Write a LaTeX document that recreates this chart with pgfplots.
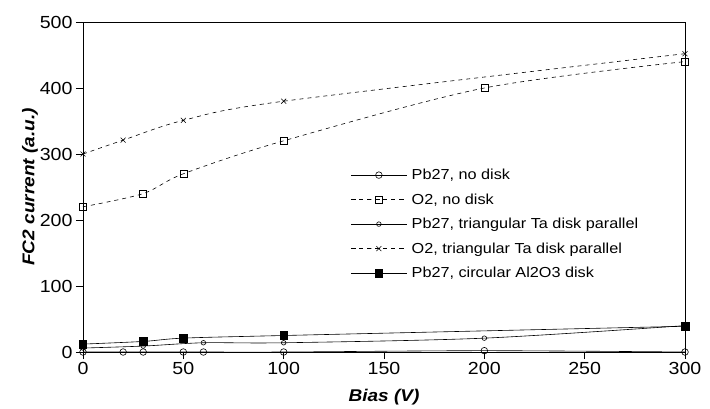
\documentclass[border=0pt]{standalone}
\usepackage{fontspec}
\setmainfont{Liberation Sans}[FakeStretch=1.12]
\usepackage{pgfplots}
\pgfplotsset{compat=1.18}
\begin{document}
\begin{tikzpicture}
\begin{axis}[
  at={(0pt,0pt)}, anchor=south west,
  scale only axis, width=602pt, height=330pt,
  xmin=0, xmax=300, ymin=0, ymax=500,
  xtick={0,50,100,150,200,250,300},
  ytick={0,100,200,300,400,500},
  xtick pos=bottom, ytick pos=left,
  tick align=outside, major tick length=7pt,
  tick style={black, line width=0.6pt},
  axis line style={line width=0.7pt},
  /pgf/number format/assume math mode=true,
  ticklabel style={font=\fontsize{17.5}{19}\selectfont},
  xlabel={\textbf{\textit{Bias (V)}}},
  ylabel={\textbf{\textit{FC2 current (a.u.)}}},
  label style={font=\fontsize{17}{19}\selectfont},
  xlabel style={yshift=-7pt},
  ylabel style={yshift=-5pt},
  legend cell align=left,
  legend style={draw=none, fill=none, at={(0.44,0.567)}, anchor=north west,
    font=\fontsize{14.5}{17}\selectfont, row sep=8.5pt},
  legend image code/.code={\draw[mark repeat=2,mark phase=2] plot coordinates {(0pt,0pt) (27.5pt,0pt) (55pt,0pt)}; \path (58pt,0pt);},
  every axis plot/.append style={line width=0.6pt, black},
]
\addplot[smooth, mark=o, mark size=3.3pt, mark options={solid, fill=white}]
  coordinates {(0,0) (20,0) (30,0) (50,0) (60,0) (100,0) (200,2) (300,0)};
\addlegendentry{Pb27, no disk}
\addplot[smooth, dash pattern=on 4pt off 4pt, mark=square, mark size=3.5pt, mark options={solid, fill=white}]
  coordinates {(0,220) (30,240) (50,270) (100,320) (200,400) (300,440)};
\addlegendentry{O2, no disk}
\addplot[smooth, mark=o, mark size=2.3pt, mark options={solid, fill=white}]
  coordinates {(0,6) (30,9) (60,14) (100,14) (200,21) (300,40)};
\addlegendentry{Pb27, triangular Ta disk parallel}
\addplot[smooth, dash pattern=on 4pt off 4pt, mark=x, mark size=3.5pt, mark options={solid}]
  coordinates {(0,300) (20,321) (50,351) (100,380) (300,452)};
\addlegendentry{O2, triangular Ta disk parallel}
\addplot[smooth, mark=square*, mark size=3.8pt, mark options={solid}]
  coordinates {(0,12) (30,16) (50,21) (100,25) (300,39)};
\addlegendentry{Pb27, circular Al2O3 disk}
\end{axis}
\pgfresetboundingbox
\path[use as bounding box] (-83pt,-56pt) rectangle (627pt,352pt);
\end{tikzpicture}
\end{document}
